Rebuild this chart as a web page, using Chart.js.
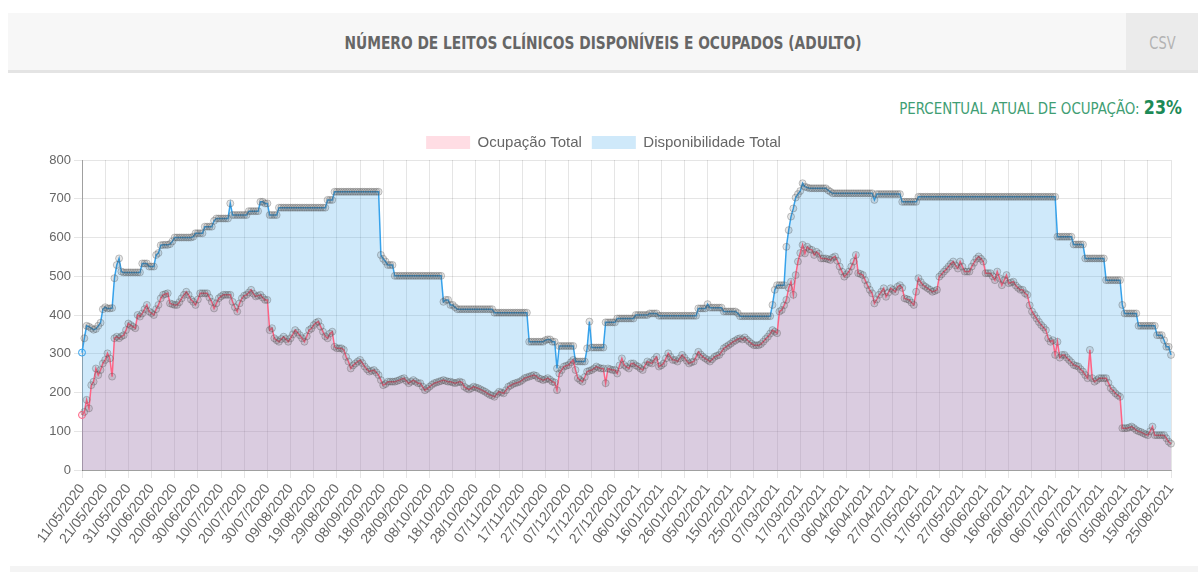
<!DOCTYPE html>
<html>
<head>
<meta charset="utf-8">
<script src="https://cdn.jsdelivr.net/npm/chart.js@4.4.0/dist/chart.umd.min.js"></script>
<style>
  body { margin: 0; background: #fff; width: 1198px; height: 572px; overflow: hidden; position: relative; font-family: "Liberation Sans", Arial, sans-serif; }
  .header { position: absolute; left: 8px; top: 13px; width: 1190px; height: 57px; background: #f7f7f7; border-bottom: 3px solid #e4e4e4; }
  .title { position: absolute; left: 0; width: 1190px; top: 20px; text-align: center; font-family: "DejaVu Sans Condensed", "DejaVu Sans"; font-weight: bold; font-size: 17px; color: #666; transform: scaleX(0.9); }
  .csv { position: absolute; right: 0; top: 0; width: 72px; height: 57px; background: #ebebeb; color: #b3b3b3; font-family: "DejaVu Sans Condensed", "DejaVu Sans"; font-size: 17px; line-height: 60px; text-align: center; }
  .csv span { display: inline-block; transform: scaleX(0.85); }
  .pct { position: absolute; right: 16px; top: 96px; font-family: "DejaVu Sans Condensed", "DejaVu Sans"; font-size: 16px; color: #3f9e74; transform: scaleX(0.93); transform-origin: right center; }
  .pct b { font-size: 19px; color: #1d8a57; }
  .box { position: absolute; left: 10px; top: 125px; width: 1180px; height: 440px; }
  .foot { position: absolute; left: 10px; top: 566px; width: 1188px; height: 6px; background: #f4f4f4; }
</style>
</head>
<body>
<div class="header">
  <div class="title">NÚMERO DE LEITOS CLÍNICOS DISPONÍVEIS E OCUPADOS (ADULTO)</div>
  <div class="csv"><span>CSV</span></div>
</div>
<div class="pct">PERCENTUAL ATUAL DE OCUPAÇÃO: <b id="pct">23%</b></div>
<div class="box"><canvas id="myChart" width="1180" height="440"></canvas></div>
<div class="foot"></div>
<script>
// Dates: one per day from 11/05/2020, with one day missing in the series
let startDate = '2020-05-11';
let missingDays = ['22/04/2021'];
let nPoints = 471;

// Ocupação Total (leitos ocupados), one value per day
let ocupacao = [
  142,150,181,159,219,228,262,245,258,275,
  284,301,288,241,340,344,340,345,348,361,
  378,374,370,366,400,396,404,415,426,409,
  405,400,415,426,443,452,454,456,430,428,
  426,426,433,443,452,460,452,440,434,426,
  440,456,456,456,456,445,434,417,430,443,
  448,452,452,452,452,434,420,409,430,443,
  450,452,458,465,455,448,450,452,445,439,
  439,361,366,340,335,331,338,344,338,331,
  340,350,361,355,348,340,331,345,361,365,
  374,380,383,370,357,345,340,352,357,318,
  314,314,314,310,292,280,262,270,275,280,
  284,276,267,260,254,256,258,252,245,232,
  219,222,228,228,228,228,230,232,235,237,
  230,224,228,232,228,224,224,215,206,210,
  215,220,224,226,228,230,232,230,228,228,
  226,224,226,228,226,215,211,208,211,215,
  213,211,208,205,202,198,194,192,189,196,
  202,200,198,206,215,218,222,224,226,228,
  232,237,239,241,243,245,243,237,235,232,
  234,237,233,228,226,206,249,258,267,269,
  271,278,284,258,237,232,228,240,254,256,
  258,262,267,264,262,262,224,262,260,258,
  258,249,270,288,271,266,262,275,275,270,
  267,262,258,270,280,277,275,285,292,267,
  270,275,288,301,292,284,284,280,288,297,
  290,282,275,278,280,292,305,298,292,288,
  284,280,286,292,295,297,305,314,318,322,
  326,331,334,338,340,337,342,336,331,326,
  322,322,322,325,331,338,344,352,361,357,
  353,409,413,425,439,470,486,452,503,538,
  560,581,559,576,570,568,555,563,558,546,
  546,546,544,542,548,551,540,525,512,499,
  505,512,525,538,555,508,506,503,490,477,
  465,456,430,440,452,460,469,447,458,469,
  465,460,473,477,470,443,441,439,432,426,
  460,495,485,477,473,469,465,460,462,465,
  499,505,512,518,525,532,538,528,520,538,
  525,512,512,512,525,535,545,551,545,538,
  508,508,508,500,490,512,495,477,490,503,
  482,484,486,476,470,465,465,456,452,425,
  409,400,391,382,374,368,361,340,331,335,
  297,331,290,297,297,290,284,278,271,269,
  267,260,254,245,237,310,237,228,232,237,
  237,237,237,225,211,205,198,193,189,108,
  108,108,110,112,108,103,100,98,95,92,
  90,100,112,90,90,90,90,90,82,73,
  68
];

// Disponibilidade Total (leitos disponíveis), one value per day
let disponibilidade = [
  303,340,372,370,366,362,364,372,380,415,
  420,417,417,418,495,529,546,512,510,510,
  510,510,510,510,510,510,533,533,533,525,
  525,525,555,560,580,581,581,581,583,590,
  600,600,600,600,600,600,600,600,602,611,
  611,611,611,628,628,628,628,643,649,649,
  649,649,649,649,688,658,658,658,658,658,
  658,658,668,668,668,668,668,692,692,688,
  688,658,658,658,658,677,677,677,677,677,
  677,677,677,677,677,677,677,677,677,677,
  677,677,677,677,677,677,697,697,697,718,
  718,718,718,718,718,718,718,718,718,718,
  718,718,718,718,718,718,718,718,718,555,
  545,538,529,529,529,501,501,501,501,501,
  501,501,501,501,501,501,501,501,501,501,
  501,501,501,501,501,501,434,439,439,426,
  426,420,415,415,415,415,415,415,415,415,
  415,415,415,415,415,415,415,415,406,406,
  406,406,406,406,406,406,406,406,406,406,
  406,406,406,331,331,331,331,331,331,331,
  335,337,337,331,331,262,320,320,320,320,
  320,320,320,280,280,280,280,280,314,383,
  316,316,316,316,316,316,381,381,381,381,
  381,391,391,391,391,391,391,391,391,400,
  400,400,400,400,400,404,404,404,404,398,
  398,398,398,398,398,398,398,398,398,398,
  398,398,398,398,398,398,417,417,417,417,
  428,419,419,419,419,419,419,409,409,409,
  409,409,409,405,397,397,397,397,397,397,
  397,397,397,397,397,397,397,397,426,465,
  477,477,477,477,576,619,654,675,703,712,
  720,740,731,729,727,727,727,727,727,727,
  727,727,722,718,714,714,714,714,714,714,
  714,714,714,714,714,714,714,714,714,714,
  714,714,697,712,712,712,712,712,712,712,
  712,712,712,712,692,692,692,692,692,692,
  692,705,705,705,705,705,705,705,705,705,
  705,705,705,705,705,705,705,705,705,705,
  705,705,705,705,705,705,705,705,705,705,
  705,705,705,705,705,705,705,705,705,705,
  705,705,705,705,705,705,705,705,705,705,
  705,705,705,705,705,705,705,705,705,705,
  705,602,602,602,602,602,602,602,582,582,
  582,582,582,546,546,546,546,546,546,546,
  546,546,490,490,490,490,490,490,490,426,
  404,404,404,404,404,404,372,372,372,372,
  372,372,372,372,348,348,348,335,318,318,
  297
];

let seriesNames = ['Ocupação Total', 'Disponibilidade Total'];
let yTicks = [0, 100, 200, 300, 400, 500, 600, 700, 800];

// Build the day labels
let labels = [];
let d = new Date(startDate + 'T12:00:00Z');
while (labels.length < nPoints) {
    let s = String(d.getUTCDate()).padStart(2, '0') + '/' + String(d.getUTCMonth() + 1).padStart(2, '0') + '/' + d.getUTCFullYear();
    if (missingDays.indexOf(s) < 0) labels.push(s);
    d.setUTCDate(d.getUTCDate() + 1);
}

// current occupancy
let last = labels.length - 1;
document.getElementById('pct').textContent = Math.round(ocupacao[last] / disponibilidade[last] * 100) + '%';

function pointBorder(color) {
    return function (c) { return c.dataIndex === 0 ? color : 'rgba(80,80,80,0.32)'; };
}
function pointFill(color) {
    return function (c) { return c.dataIndex === 0 ? color : 'rgba(80,80,80,0.14)'; };
}

var ctx = document.getElementById('myChart').getContext('2d');
var myChart = new Chart(ctx, {
    type: 'line',
    data: {
        labels: labels,
        datasets: [{
            label: seriesNames[0],
            data: ocupacao,
            borderColor: 'rgb(255, 99, 132)',
            backgroundColor: 'rgba(255, 99, 132, 0.22)',
            borderWidth: 1.5,
            fill: 'origin',
            tension: 0,
            pointRadius: 3.5,
            pointBorderWidth: 1,
            pointBorderColor: pointBorder('rgb(255, 99, 132)'),
            pointBackgroundColor: pointFill('rgba(255, 99, 132, 0.12)')
        }, {
            label: seriesNames[1],
            data: disponibilidade,
            borderColor: 'rgb(54, 162, 235)',
            backgroundColor: 'rgba(54, 162, 235, 0.24)',
            borderWidth: 1.5,
            fill: 'origin',
            tension: 0,
            pointRadius: 3.5,
            pointBorderWidth: 1,
            pointBorderColor: pointBorder('rgb(54, 162, 235)'),
            pointBackgroundColor: pointFill('rgba(54, 162, 235, 0.12)')
        }]
    },
    options: {
        responsive: false,
        animation: false,
        // left padding keeps the legend centred like the original
        layout: { padding: { left: 26, right: 19, top: 0, bottom: 0 } },
        plugins: {
            legend: {
                labels: {
                    font: { family: 'Liberation Sans', size: 15 },
                    color: '#666',
                    boxWidth: 44,
                    boxHeight: 13,
                    generateLabels: function (chart) {
                        return Chart.defaults.plugins.legend.labels.generateLabels(chart).map(function (l) {
                            l.lineWidth = 0;
                            return l;
                        });
                    }
                }
            },
            tooltip: { enabled: false }
        },
        scales: {
            x: {
                grid: { color: 'rgba(0,0,0,0.1)' },
                border: { color: 'rgba(0,0,0,0.3)' },
                afterFit: function (axis) { axis.height = 95; },
                ticks: {
                    autoSkip: false,
                    minRotation: 53,
                    maxRotation: 53,
                    color: '#666',
                    font: { family: 'Liberation Sans', size: 14 },
                    // show every 10th day, hide the others and their grid lines
                    callback: function (v, i) { return i % 10 === 0 ? labels[i] : null; }
                }
            },
            y: {
                min: yTicks[0],
                max: yTicks[yTicks.length - 1],
                grid: { color: 'rgba(0,0,0,0.1)' },
                border: { color: 'rgba(0,0,0,0.3)' },
                afterFit: function (axis) { axis.width = 46; },
                ticks: {
                    stepSize: 100,
                    color: '#666',
                    font: { family: 'Liberation Sans', size: 13 }
                }
            }
        }
    }
});
</script>
</body>
</html>
